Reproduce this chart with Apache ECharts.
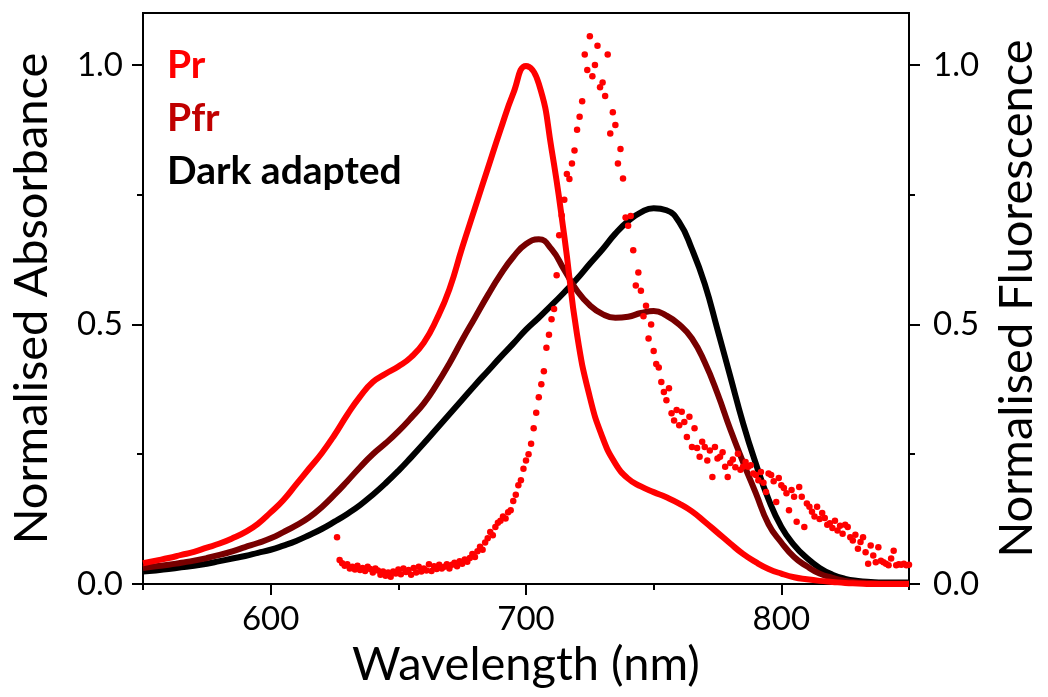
<!DOCTYPE html>
<html>
<head>
<meta charset="utf-8">
<script src="https://cdn.jsdelivr.net/npm/echarts@6/dist/echarts.min.js"></script>
<style>
html,body{margin:0;padding:0;background:#fff;}
#chart{width:1048px;height:697px;}
</style>
</head>
<body>
<div id="chart"></div>
<script>
// Absorbance wavelength grid (nm)
const absWl = [550,555,560,565,570,575,580,585,590,595,600,605,610,615,620,625,630,635,640,645,
  650,655,660,665,670,675,680,685,690,695,700,705,710,715,720,725,730,735,740,745,
  750,755,760,765,770,775,780,785,790,795,800,805,810,815,820,825,830,835,840,845,850];

const prAbs = [0.040,0.045,0.050,0.056,0.062,0.070,0.078,0.088,0.100,0.116,
  0.138,0.162,0.192,0.222,0.252,0.287,0.326,0.361,0.389,0.405,
  0.419,0.437,0.465,0.510,0.568,0.648,0.724,0.800,0.875,0.945,
  0.998,0.964,0.838,0.670,0.480,0.360,0.282,0.232,0.203,0.188,
  0.177,0.167,0.155,0.140,0.120,0.099,0.078,0.058,0.042,0.029,
  0.020,0.013,0.009,0.006,0.004,0.002,0.001,0.000,0.000,0.000,0.000];

const pfrAbs = [0.031,0.034,0.037,0.041,0.045,0.050,0.056,0.063,0.071,0.079,
  0.088,0.100,0.113,0.128,0.148,0.172,0.198,0.225,0.250,0.271,
  0.294,0.320,0.348,0.384,0.425,0.470,0.513,0.556,0.596,0.630,
  0.655,0.664,0.645,0.605,0.565,0.537,0.520,0.513,0.515,0.522,
  0.526,0.517,0.500,0.473,0.427,0.367,0.298,0.235,0.175,0.115,
  0.080,0.052,0.034,0.020,0.012,0.006,0.003,0.002,0.001,0.001,0.001];

const darkAbs = [0.024,0.026,0.029,0.032,0.035,0.039,0.044,0.049,0.054,0.060,
  0.066,0.074,0.083,0.094,0.106,0.120,0.135,0.152,0.172,0.194,
  0.218,0.244,0.271,0.299,0.327,0.355,0.383,0.410,0.437,0.463,
  0.490,0.513,0.537,0.562,0.588,0.617,0.645,0.675,0.699,0.716,
  0.724,0.720,0.697,0.645,0.578,0.490,0.400,0.310,0.232,0.163,
  0.110,0.075,0.050,0.031,0.018,0.010,0.006,0.004,0.003,0.003,0.003];

// Fluorescence: one value per nm, starting at 626 nm
const fluoStart = 626;
const fluoVal = [
  0.090,0.046,0.040,0.035,0.038,0.030,0.033,0.028,0.035,0.027, // 626-635
  0.031,0.025,0.033,0.029,0.022,0.030,0.026,0.018,0.024,0.016, // 636-645
  0.022,0.014,0.024,0.020,0.028,0.019,0.030,0.023,0.027,0.018, // 646-655
  0.031,0.022,0.033,0.024,0.030,0.026,0.038,0.025,0.034,0.029, // 656-665
  0.037,0.030,0.033,0.038,0.030,0.037,0.041,0.034,0.044,0.039, // 666-675
  0.047,0.043,0.050,0.058,0.052,0.063,0.072,0.066,0.080,0.088, // 676-685
  0.100,0.094,0.110,0.118,0.122,0.130,0.126,0.138,0.142,0.160, // 686-695
  0.172,0.190,0.200,0.222,0.238,0.250,0.270,0.300,0.330,0.360, // 696-705
  0.385,0.410,0.455,0.480,0.510,0.530,0.595,0.672,0.710,0.740, // 706-715
  0.790,0.780,0.810,0.835,0.875,0.900,0.930,1.020,0.990,1.055, // 716-725
  0.978,1.000,1.037,0.957,0.966,0.940,1.020,0.868,0.909,0.884, // 726-735
  0.810,0.838,0.781,0.706,0.690,0.709,0.643,0.575,0.600,0.565, // 736-745
  0.516,0.536,0.473,0.500,0.449,0.424,0.417,0.389,0.370,0.354, // 746-755
  0.377,0.329,0.315,0.335,0.306,0.332,0.312,0.283,0.322,0.264, // 756-765
  0.300,0.262,0.245,0.274,0.264,0.238,0.257,0.206,0.264,0.242, // 766-775
  0.245,0.254,0.226,0.206,0.233,0.240,0.225,0.251,0.220,0.226, // 776-785
  0.235,0.226,0.229,0.213,0.210,0.200,0.216,0.195,0.177,0.213, // 786-795
  0.210,0.198,0.158,0.204,0.190,0.185,0.175,0.142,0.181,0.168, // 796-805
  0.120,0.187,0.168,0.110,0.155,0.149,0.139,0.130,0.149,0.125, // 806-815
  0.137,0.127,0.114,0.117,0.108,0.122,0.103,0.112,0.097,0.114, // 816-825
  0.110,0.090,0.084,0.095,0.068,0.081,0.090,0.061,0.039,0.074, // 826-835
  0.055,0.042,0.071,0.045,0.042,0.039,0.036,0.049,0.064,0.036, // 836-845
  0.038,0.037,0.039,0.036,0.037                                // 846-850
];

const xMajor = [600, 700, 800];
const xMinor = [550, 650, 750, 850];
const yMajor = [0, 0.5, 1.0];
const yMinor = [0.25, 0.75];

const seriesNames = ['Pr', 'Pfr', 'Dark adapted'];
const legendColors = ['#ff0000', '#c00000', '#000000'];
const lineColors = ['#ff0000', '#780000', '#000000'];

const FONT = 'Lato';
const pair = (xs, ys) => xs.map((x, i) => [x, ys[i]]);
const fluoData = fluoVal.map((v, i) => [fluoStart + i, v]);

const chart = echarts.init(document.getElementById('chart'), null, {renderer: 'canvas'});

const baseX = {type: 'value', min: 550, max: 850, splitLine: {show: false}};
const baseY = {type: 'value', min: 0, max: 1.1, splitLine: {show: false}};
const lineStyle = {color: '#000', width: 2};

chart.setOption({
  animation: false,
  backgroundColor: '#fff',
  textStyle: {fontFamily: FONT},
  grid: {left: 139, right: 131, top: 13, bottom: 113, show: true, borderColor: '#000', borderWidth: 2, backgroundColor: 'transparent'},
  legend: {
    orient: 'vertical', left: 157, top: 40, icon: 'none', itemWidth: 0, itemHeight: 0, itemGap: 13,
    selectedMode: false,
    textStyle: {fontFamily: FONT, fontWeight: 'bold', fontSize: 39, lineHeight: 40},
    data: seriesNames.map((n, i) => ({name: n, textStyle: {color: legendColors[i]}}))
  },
  xAxis: [
    Object.assign({}, baseX, {
      position: 'bottom',
      axisLine: {show: true, lineStyle},
      axisTick: {show: true, inside: false, length: 11, lineStyle, customValues: xMajor},
      axisLabel: {show: true, customValues: xMajor, fontSize: 33, color: '#000', fontFamily: FONT, margin: 19},
      name: 'Wavelength (nm)', nameLocation: 'middle', nameGap: 56,
      nameTextStyle: {fontSize: 47, color: '#000', fontFamily: FONT}
    }),
    Object.assign({}, baseX, {
      position: 'bottom',
      axisLine: {show: false},
      axisTick: {show: true, inside: false, length: 6, lineStyle, customValues: xMinor},
      axisLabel: {show: false}
    })
  ],
  yAxis: [
    Object.assign({}, baseY, {
      position: 'left',
      axisLine: {show: true, lineStyle},
      axisTick: {show: true, inside: false, length: 11, lineStyle, customValues: yMajor},
      axisLabel: {show: true, customValues: yMajor, fontSize: 33, color: '#000', fontFamily: FONT, margin: 20,
        formatter: v => v.toFixed(1)},
      name: 'Normalised Absorbance', nameLocation: 'middle', nameGap: 88,
      nameTextStyle: {fontSize: 47, color: '#000', fontFamily: FONT}
    }),
    Object.assign({}, baseY, {
      position: 'right',
      axisLine: {show: true, lineStyle},
      axisTick: {show: true, inside: false, length: 11, lineStyle, customValues: yMajor},
      axisLabel: {show: true, customValues: yMajor, fontSize: 33, color: '#000', fontFamily: FONT, margin: 24,
        formatter: v => v.toFixed(1)},
      name: 'Normalised Fluorescence', nameLocation: 'middle', nameGap: 84,
      nameTextStyle: {fontSize: 47, color: '#000', fontFamily: FONT}
    }),
    Object.assign({}, baseY, {
      position: 'left',
      axisLine: {show: false},
      axisTick: {show: true, inside: false, length: 6, lineStyle, customValues: yMinor},
      axisLabel: {show: false}
    }),
    Object.assign({}, baseY, {
      position: 'right',
      axisLine: {show: false},
      axisTick: {show: true, inside: false, length: 6, lineStyle, customValues: yMinor},
      axisLabel: {show: false}
    })
  ],
  series: [
    {name: 'Dark adapted', type: 'line', data: pair(absWl, darkAbs), showSymbol: false, smooth: 0.5,
      lineStyle: {color: lineColors[2], width: 6}, itemStyle: {color: lineColors[2]}, z: 2},
    {name: 'Pfr', type: 'line', data: pair(absWl, pfrAbs), showSymbol: false, smooth: 0.5,
      lineStyle: {color: lineColors[1], width: 6}, itemStyle: {color: lineColors[1]}, z: 3},
    {name: 'Pr', type: 'line', data: pair(absWl, prAbs), showSymbol: false, smooth: 0.5,
      lineStyle: {color: lineColors[0], width: 6}, itemStyle: {color: lineColors[0]}, z: 4},
    {name: 'Fluorescence', type: 'scatter', yAxisIndex: 1, data: fluoData, symbolSize: 6.5,
      itemStyle: {color: '#ff0000', opacity: 1}, z: 5}
  ]
});
</script>
</body>
</html>
